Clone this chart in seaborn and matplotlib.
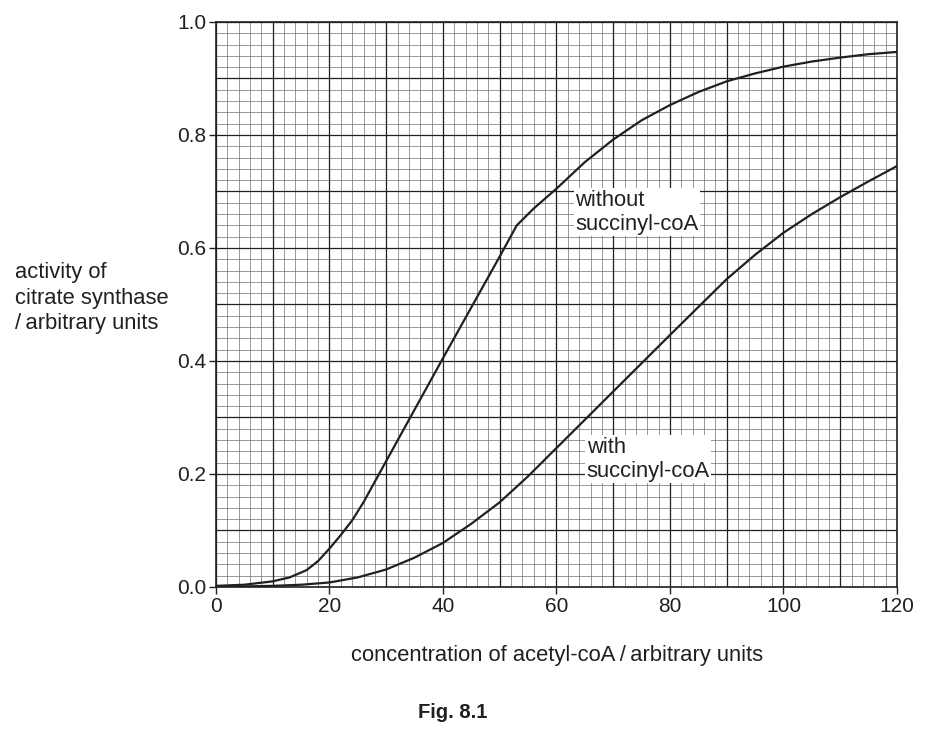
import numpy as np
import pandas as pd
import matplotlib
matplotlib.use('Agg')
import matplotlib.pyplot as plt
import seaborn as sns
from matplotlib.ticker import MultipleLocator

# values
without_x = [0, 5, 10, 13, 16, 18, 20, 22, 24, 26, 30, 40, 50, 53, 56, 60, 65, 70, 75, 80, 85, 90, 95, 100,
             105, 110, 115, 120]
without_y = [0.002, 0.004, 0.01, 0.017, 0.03, 0.046, 0.068, 0.092, 0.118, 0.15, 0.223, 0.405, 0.585, 0.64,
             0.67, 0.705, 0.752, 0.792, 0.826, 0.853, 0.876, 0.895, 0.909, 0.921, 0.930, 0.937, 0.943, 0.947]
with_x = [0, 10, 15, 20, 25, 30, 35, 40, 45, 50, 55, 60, 65, 70, 80, 90, 95, 100, 105, 110, 115, 120]
with_y = [0.0, 0.002, 0.004, 0.008, 0.017, 0.031, 0.052, 0.078, 0.112, 0.150, 0.196, 0.246, 0.296, 0.346,
          0.446, 0.545, 0.588, 0.627, 0.660, 0.690, 0.718, 0.745]

x_ticks = [0, 20, 40, 60, 80, 100, 120]
y_ticks = [0.0, 0.2, 0.4, 0.6, 0.8, 1.0]

sns.set_style('white')
plt.rcParams['font.family'] = ['Liberation Sans', 'DejaVu Sans']

fig = plt.figure(figsize=(9.37, 7.33), dpi=100)
ax = fig.add_axes([0.2305, 0.1992, 0.7268, 0.7708])

ink = '#231f20'

# graph paper grid
ax.xaxis.set_minor_locator(MultipleLocator(2))
ax.yaxis.set_minor_locator(MultipleLocator(0.02))
ax.grid(which='minor', color='#707070', linewidth=0.5, zorder=0)
for v in np.arange(0, 121, 10):
    ax.axvline(v, color=ink, linewidth=0.9, zorder=1)
for v in np.arange(0, 1.01, 0.1):
    ax.axhline(v, color=ink, linewidth=0.9, zorder=1)

df_without = pd.DataFrame({'x': without_x, 'y': without_y})
df_with = pd.DataFrame({'x': with_x, 'y': with_y})
sns.lineplot(data=df_without, x='x', y='y', ax=ax, color=ink, linewidth=1.6, zorder=3)
sns.lineplot(data=df_with, x='x', y='y', ax=ax, color=ink, linewidth=1.6, zorder=3)

ax.set_xlim(0, 120)
ax.set_ylim(0, 1.0)
ax.set_xticks(x_ticks)
ax.set_yticks(y_ticks)
ax.set_xticklabels([str(t) for t in x_ticks])
ax.set_yticklabels([f'{t:.1f}' for t in y_ticks])
ax.tick_params(which='major', direction='out', length=5, width=1, color=ink, pad=2,
               labelsize=15, labelcolor=ink, bottom=True, left=True)
ax.tick_params(which='minor', length=0)
for s in ax.spines.values():
    s.set_color(ink)
    s.set_linewidth(1.2)
ax.set_xlabel('')
ax.set_ylabel('')

box = dict(facecolor='white', edgecolor='none', pad=1.0)
ax.text(63.3, 0.703, 'without\nsuccinyl-coA', fontsize=15.8, color=ink, va='top', ha='left',
        linespacing=1.2, bbox=box, zorder=4)
ax.text(65.3, 0.266, 'with\nsuccinyl-coA', fontsize=15.8, color=ink, va='top', ha='left',
        linespacing=1.2, bbox=box, zorder=4)

fig.text(15 / 937, 1 - 298 / 733, 'activity of\ncitrate synthase\n/\u2009arbitrary units', fontsize=15.8,
         color=ink, ha='left', va='center', linespacing=1.27)
fig.text(557 / 937, 1 - 655 / 733, 'concentration of acetyl-coA\u2009/\u2009arbitrary units', fontsize=15.8,
         color=ink, ha='center', va='center')
fig.text(453 / 937, 1 - 712 / 733, 'Fig. 8.1', fontsize=14.5, fontweight='bold',
         color=ink, ha='center', va='center')

fig.savefig('out.png', dpi=100, facecolor='white')
